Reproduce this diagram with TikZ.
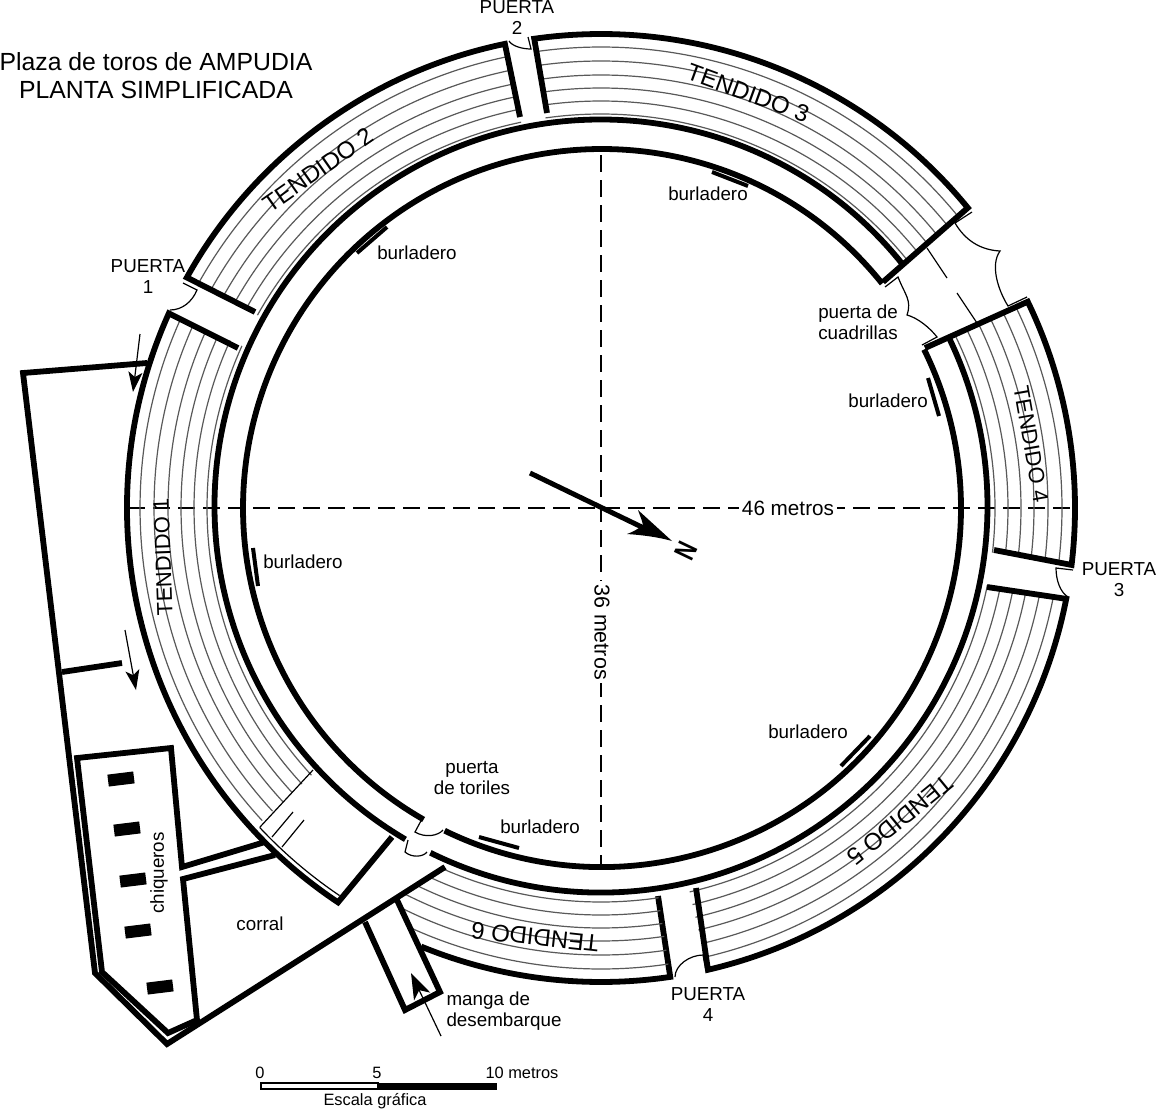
\documentclass[tikz,border=0pt]{standalone}
\usepackage{fontspec}
\setmainfont{Liberation Sans}
\usetikzlibrary{arrows.meta}
\tikzset{
  wall/.style={line width=5.8pt,line join=miter,miter limit=10},
  stepline/.style={line width=1.2pt,draw=black!65},
  thin line/.style={line width=1.2pt},
  axis/.style={line width=1.4pt,dash pattern=on 17pt off 8pt},
  burl/.style={line width=4pt},
  lab/.style={font=\fontsize{18.8}{21}\selectfont,inner sep=0pt,align=center},
  tend/.style={font=\fontsize{24}{26}\selectfont,inner sep=0pt},
  dim/.style={font=\fontsize{20.7}{23}\selectfont,inner sep=3pt,fill=white},
  scl/.style={font=\fontsize{16.4}{18}\selectfont,inner sep=0pt},
  title/.style={font=\fontsize{24.8}{28}\selectfont,inner sep=0pt},
  pen/.style={fill=black,draw=none,minimum width=26pt,minimum height=12pt,inner sep=0pt,rotate=7},
  arrowA/.style={line width=1.2pt,-{Stealth[length=20pt,width=14pt,inset=5pt]}},
  arrowB/.style={line width=1.2pt,-{Stealth[length=26pt,width=18pt,inset=7pt]}}
}
\begin{document}
\begin{tikzpicture}[x=1pt,y=-1pt]
\useasboundingbox (0,0) rectangle (1158,1111);
\fill[white] (0,0) rectangle (1158,1111);
% axes
\draw[axis] (128,508) -- (1077,508);
\draw[axis] (601,155) -- (601,865);
% wall end points
\coordinate (w1a) at (238,348); \coordinate (w1b) at (255,312);
\coordinate (w2a) at (520,117); \coordinate (w2b) at (547,113);
\coordinate (w3a) at (883,282);
\coordinate (w4a) at (925,348);
\coordinate (w4b) at (994,550); \coordinate (w5a) at (987,587);
\coordinate (w5b) at (696,888); \coordinate (w6a) at (658,896);
\coordinate (m1) at (397,900); \coordinate (m2) at (440,992);
\coordinate (m3) at (405,1010); \coordinate (m4) at (365,922);
\coordinate (t1a) at (392,837);
% rings
\begin{scope}[shift={(602,508)}]
  \draw[wall] (38.7:359pt) arc[start angle=38.7,end angle=240.2,radius=359pt];
  \draw[wall] (244:359pt) arc[start angle=244,end angle=386.2,radius=359pt];
\end{scope}
\begin{scope}[shift={(601,506)}]
  \draw[wall] (39:386.5pt) arc[start angle=39,end angle=239.6,radius=386.5pt];
  \draw[wall] (243.8:386.5pt) arc[start angle=243.8,end angle=386,radius=386.5pt];
\end{scope}
\begin{scope}[shift={(601,508)}]
  % stair lines
  \foreach \r in {394,407,420,433,447,461}{
    \draw[stepline] (155.7:\r pt) arc[start angle=155.7,end angle=222.7,radius=\r pt];
    \draw[stepline] (150.7:\r pt) arc[start angle=150.7,end angle=101.7,radius=\r pt];
    \draw[stepline] (98.1:\r pt) arc[start angle=98.1,end angle=39,radius=\r pt];
    \draw[stepline] (26:\r pt) arc[start angle=26,end angle=-6.5,radius=\r pt];
    \draw[stepline] (-11.3:\r pt) arc[start angle=-11.3,end angle=-77,radius=\r pt];
  }
  % tendidos
  \draw[wall] (w1b) -- (150.9:474pt) arc[start angle=150.9,end angle=101.7,radius=474pt] -- (w2a);
  \draw[wall] (w2b) -- (98.1:474pt) arc[start angle=98.1,end angle=39.3,radius=474pt] -- (w3a);
  \draw[wall] (w4a) -- (25.8:474pt) arc[start angle=25.8,end angle=-6.9,radius=474pt] -- (w4b);
  \draw[wall] (w5a) -- (-11.05:474pt) arc[start angle=-11.05,end angle=-76.96,radius=474pt] -- (w5b);
  \draw[wall] (w6a) -- (-81.6:474pt) arc[start angle=-81.6,end angle=-112.3,radius=474pt];
  \draw[wall] (w1a) -- (155.75:474pt) arc[start angle=155.75,end angle=236.3,radius=474pt] -- (t1a);
  \draw[thin line] (223.1:467.5pt) arc[start angle=223.1,end angle=236,radius=467.5pt];
\end{scope}
% tendido 6 stair lines, cut by the corral wall and the manga
\begin{scope}
  \clip (445,867) -- (397,900) -- (460,1035) -- (700,1035) -- (700,860) -- cycle;
  \begin{scope}[shift={(601,508)}]
    \foreach \r in {394,407,420,433,447,461}{
      \draw[stepline] (-81.6:\r pt) arc[start angle=-81.6,end angle=-125,radius=\r pt];
    }
  \end{scope}
\end{scope}
% thin lines in the passage of tendido 1
\draw[thin line] (260,827) -- (313,770);
\draw[thin line] (272,837) -- (293,812);
\draw[thin line] (282,847) -- (304,820);
% outbuildings
\draw[wall] (147,363) -- (23,373) -- (95,973) -- (167,1044) -- (445,867);
\draw[wall] (62,672) -- (122,663);
\draw[wall] (265,842) -- (182,867) -- (171,748) -- (77,758) -- (102,972) -- (168,1033) -- (197,1020) -- (183,879) -- (275,855);
\draw[wall] (m1) -- (m2) -- (m3) -- (m4);
% pens
\node[pen] (p1) at (121,779) {};
\node[pen] (p2) at (127,829) {};
\node[pen] (p3) at (133,880) {};
\node[pen] (p4) at (138,931) {};
\node[pen] (p5) at (160,987) {};
% doors
\draw[thin line] (183,283) -- (197,290) .. controls (192,302) and (182,310) .. (170,310);
\draw[thin line] (528,37) -- (531,49) .. controls (522,49) and (512,46) .. (509,41);
\draw[thin line] (1073,570) -- (1056,568) .. controls (1056,580) and (1060,592) .. (1068,597);
\draw[thin line] (706,971) -- (703,955) .. controls (690,955) and (675,965) .. (675,977);
\draw[thin line] (885,287) -- (898,277) .. controls (905,295) and (912,300) .. (907,315) .. controls (918,318) and (930,328) .. (937,337) -- (922,345);
\draw[thin line] (972,212) -- (955,223) .. controls (965,240) and (980,250) .. (1000,251) .. controls (990,265) and (998,290) .. (1008,306) -- (1027,297);
\draw[thin line] (927,248) -- (947,278);
\draw[thin line] (957,293) -- (977,323);
\draw[thin line] (423,817) -- (415,832) .. controls (425,838) and (438,836) .. (443,830);
\draw[thin line] (408,840) -- (405,852) .. controls (412,858) and (423,857) .. (427,852);
% burladeros
\draw[burl] (357,253) -- (387,227);
\draw[burl] (712,172) -- (748,186);
\draw[burl] (928,378) -- (939,416);
\draw[burl] (253,548) -- (258,586);
\draw[burl] (841,766) -- (870,736);
\draw[burl] (479,837) -- (519,848);
% arrows
\draw[arrowA] (140,334) -- (133,392);
\draw[arrowA] (125,630) -- (136,690);
\draw[arrowB] (441,1036) -- (411,973);
% north arrow
\draw[line width=5pt] (530,473) -- (650,531);
\fill (672,541) -- (638,510) .. controls (640,516) and (642,520) .. (643,525) .. controls (638,529) and (633,532) .. (627,534) .. controls (642,535) and (658,537) .. cycle;
\node[font=\bfseries\fontsize{29}{29}\selectfont,inner sep=0pt,rotate=-115.6,xscale=.75] (north) at (686,551) {N};
% scale bar
\draw[line width=1.2pt,fill=white] (261,1083) rectangle (378,1089);
\fill (378,1082.5) rectangle (497,1089.5);
\node[scl] (s0) at (260,1073) {0};
\node[scl] (s5) at (377,1073) {5};
\node[scl] (s10) at (522,1073) {10 metros};
\node[scl] (esc) at (375,1101) {Escala gráfica};
% dimension labels
\node[dim] (d46) at (788,508) {46 metros};
\node[dim,rotate=-90,font=\fontsize{21.5}{23}\selectfont] (d36) at (602,632) {36 metros};
% titles
\node[title] (ti1) at (156,62) {Plaza de toros de AMPUDIA};
\node[title] (ti2) at (156,90) {PLANTA SIMPLIFICADA};
% tendidos
\node[tend,rotate=92,font=\fontsize{22}{24}\selectfont] (t1) at (163,557) {TENDIDO 1};
\node[tend,rotate=35] (t2) at (318,170) {TENDIDO 2};
\node[tend,rotate=-20] (t3) at (748,93) {TENDIDO 3};
\node[tend,rotate=-80,font=\fontsize{22}{24}\selectfont] (t4) at (1031,444) {TENDIDO 4};
\node[tend,rotate=219.3] (t5) at (900,820) {TENDIDO 5};
\node[tend,rotate=173.7] (t6) at (535,937) {TENDIDO 6};
% labels
\node[lab] (b1) at (417,253) {burladero};
\node[lab] (b2) at (708,194) {burladero};
\node[lab] (b3) at (888,401) {burladero};
\node[lab] (b4) at (303,562) {burladero};
\node[lab] (b5) at (808,732) {burladero};
\node[lab] (b6) at (540,827) {burladero};
\node[lab] (pc) at (858,322) {puerta de\\cuadrillas};
\node[lab] (pt) at (472,778) {puerta\\de toriles};
\node[lab] (pu1) at (148,277) {PUERTA\\1};
\node[lab] (pu2) at (517,18) {PUERTA\\2};
\node[lab] (pu3) at (1119,580) {PUERTA\\3};
\node[lab] (pu4) at (708,1005) {PUERTA\\4};
\node[lab,rotate=90] (chq) at (159,873) {chiqueros};
\node[lab] (cor) at (260,924) {corral};
\node[lab,align=left] (man) at (504,1011) {manga de\\desembarque};
\end{tikzpicture}
\end{document}
